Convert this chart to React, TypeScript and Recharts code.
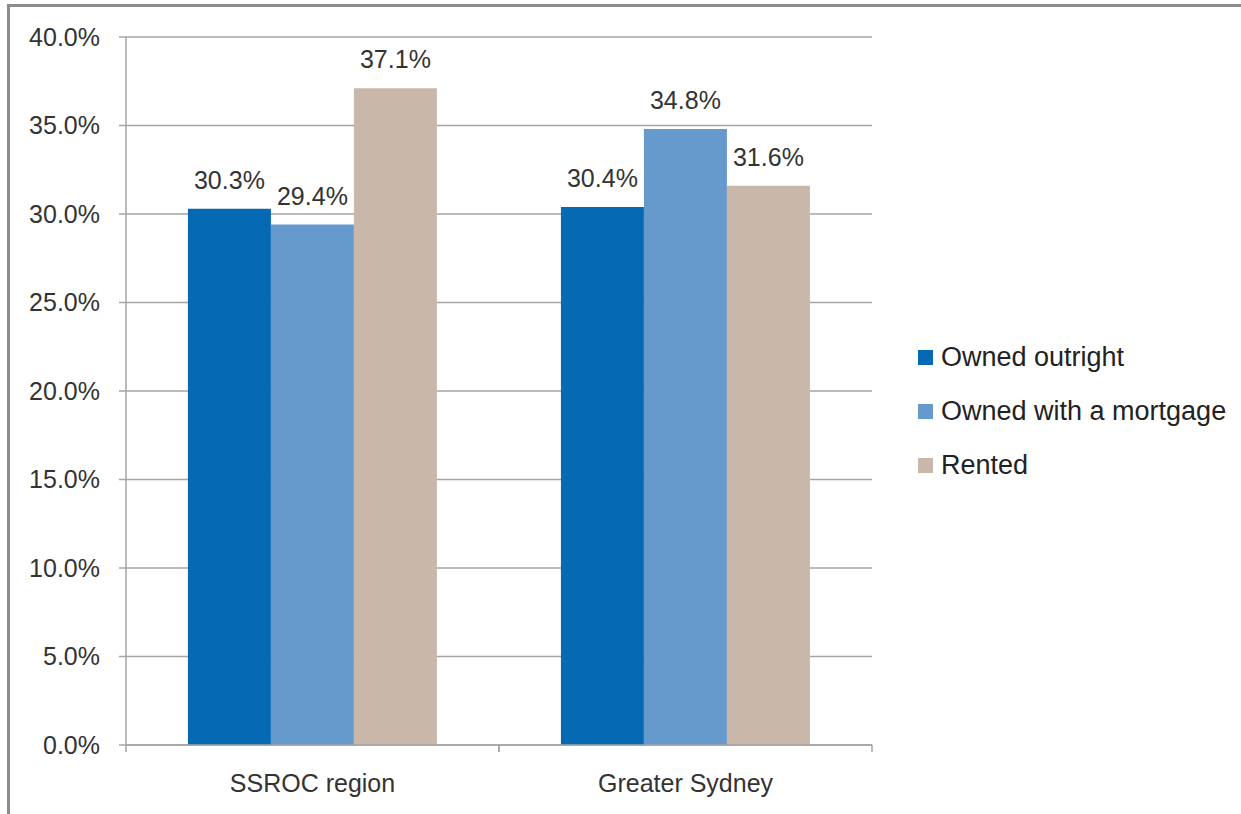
import React from "react";
import { BarChart, Bar, XAxis, YAxis, CartesianGrid, Legend, LabelList } from "recharts";

const REGIONS = ["SSROC region", "Greater Sydney"];
const OWNED_OUTRIGHT = [30.3, 30.4];
const OWNED_MORTGAGE = [29.4, 34.8];
const RENTED = [37.1, 31.6];
const Y_TICKS = [0, 5, 10, 15, 20, 25, 30, 35, 40];

const SERIES = [
  { key: "outright", name: "Owned outright", color: "#0569b4" },
  { key: "mortgage", name: "Owned with a mortgage", color: "#6699cc" },
  { key: "rented", name: "Rented", color: "#c9b8a9" },
];

const data = REGIONS.map((region, i) => ({
  region,
  outright: OWNED_OUTRIGHT[i],
  mortgage: OWNED_MORTGAGE[i],
  rented: RENTED[i],
}));

const FONT = "'Liberation Sans', Arial, sans-serif";
const AXIS_GREY = "#a5a5a5";
const TEXT = "#333333";

const pct = (v: number) => `${Number(v).toFixed(1)}%`;

/* category labels with tick marks on the band edges */
function RegionTick(props: any) {
  const { x, y, payload } = props;
  const half = payload.offset ?? 0;
  return (
    <g>
      <line x1={x - half} x2={x - half} y1={y} y2={y + 7} stroke={AXIS_GREY} strokeWidth={1.5} />
      <line x1={x + half} x2={x + half} y1={y} y2={y + 7} stroke={AXIS_GREY} strokeWidth={1.5} />
      <text x={x} y={y + 47} textAnchor="middle" fill={TEXT} fontSize={25} fontFamily={FONT}>
        {payload.value}
      </text>
    </g>
  );
}

function LegendBox({ payload }: any) {
  return (
    <div style={{ fontFamily: FONT, fontSize: 27, color: "#222" }}>
      {(payload ?? []).map((p: any) => (
        <div key={p.value} style={{ display: "flex", alignItems: "center", height: 54 }}>
          <span style={{ width: 15, height: 15, background: p.color, marginRight: 8, display: "inline-block" }} />
          <span>{p.value}</span>
        </div>
      ))}
    </div>
  );
}

export default function App() {
  return (
    <div style={{ position: "absolute", left: 0, top: 0, width: 1241, height: 814, background: "#fff" }}>
      <div
        style={{
          position: "absolute",
          left: 7,
          top: 4,
          width: 1234,
          height: 810,
          borderTop: "3px solid #8c8c8c",
          borderLeft: "3px solid #8c8c8c",
          boxSizing: "border-box",
        }}
      />
      <BarChart
        width={1241}
        height={814}
        data={data}
        margin={{ top: 37, right: 369, bottom: 0, left: 0 }}
        barCategoryGap="16.6%"
        barGap={0}
      >
        <CartesianGrid vertical={false} stroke={AXIS_GREY} strokeWidth={1.5} />
        <XAxis
          dataKey="region"
          height={69}
          axisLine={{ stroke: AXIS_GREY, strokeWidth: 1.5 }}
          tickLine={false}
          tickSize={0}
          tickMargin={0}
          tick={<RegionTick />}
          interval={0}
        />
        <YAxis
          width={126}
          domain={[0, 40]}
          ticks={Y_TICKS}
          tickFormatter={pct}
          axisLine={{ stroke: AXIS_GREY, strokeWidth: 1.5 }}
          tickLine={{ stroke: AXIS_GREY, strokeWidth: 1.5 }}
          tickSize={7}
          tickMargin={19}
          tick={{ fill: TEXT, fontSize: 25, fontFamily: FONT }}
        />
        <Legend
          layout="vertical"
          align="center"
          verticalAlign="middle"
          content={<LegendBox />}
          wrapperStyle={{ position: "absolute", left: 918, top: 330, width: 320 }}
        />
        {SERIES.map((s) => (
          <Bar key={s.key} dataKey={s.key} name={s.name} fill={s.color} isAnimationActive={false}>
            <LabelList
              dataKey={s.key}
              position="top"
              offset={20}
              formatter={(v: any) => pct(v)}
              fill={TEXT}
              fontSize={25}
              fontFamily={FONT}
            />
          </Bar>
        ))}
      </BarChart>
    </div>
  );
}
